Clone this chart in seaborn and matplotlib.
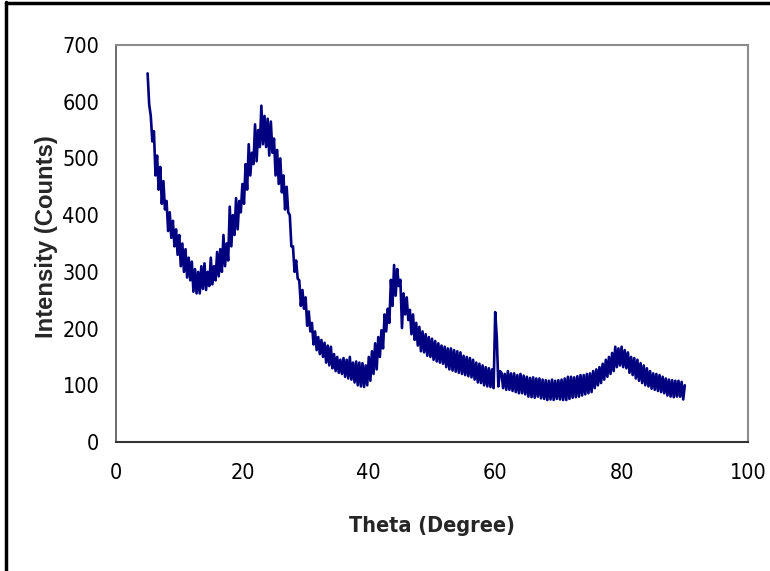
import numpy as np
import pandas as pd
import matplotlib
matplotlib.use("Agg")
import matplotlib.pyplot as plt
from matplotlib import font_manager as fm
import seaborn as sns

# Intensity readings, 4 samples per degree (0.25 deg step) starting at 5 deg
intensity_by_degree = [
    [650, 595, 575, 530],   # 5
    [548, 470, 505, 445],   # 6
    [485, 420, 460, 410],   # 7
    [425, 372, 405, 360],   # 8
    [390, 345, 375, 330],   # 9
    [365, 310, 350, 300],   # 10
    [340, 290, 325, 285],   # 11
    [318, 265, 305, 262],   # 12
    [300, 262, 310, 270],   # 13
    [315, 268, 300, 275],   # 14
    [325, 278, 310, 285],   # 15
    [335, 292, 340, 300],   # 16
    [365, 310, 350, 320],   # 17
    [415, 345, 400, 365],   # 18
    [430, 375, 425, 405],   # 19
    [455, 420, 490, 445],   # 20
    [525, 470, 510, 490],   # 21
    [560, 495, 550, 520],   # 22
    [593, 525, 575, 520],   # 23
    [570, 505, 565, 510],   # 24
    [535, 470, 515, 455],   # 25
    [500, 440, 470, 410],   # 26
    [450, 405, 400, 345],   # 27
    [345, 300, 320, 288],   # 28
    [285, 240, 268, 235],   # 29
    [255, 205, 230, 195],   # 30
    [210, 172, 195, 162],   # 31
    [185, 155, 180, 150],   # 32
    [175, 140, 170, 135],   # 33
    [168, 130, 155, 125],   # 34
    [150, 122, 145, 120],   # 35
    [148, 115, 145, 112],   # 36
    [150, 110, 140, 105],   # 37
    [142, 100, 140, 98],    # 38
    [139, 97, 135, 100],    # 39
    [150, 108, 160, 120],   # 40
    [174, 128, 185, 150],   # 41
    [197, 165, 225, 195],   # 42
    [235, 210, 286, 240],   # 43
    [312, 258, 305, 275],   # 44
    [286, 201, 262, 225],   # 45
    [255, 215, 233, 190],   # 46
    [225, 180, 210, 170],   # 47
    [203, 160, 195, 158],   # 48
    [190, 152, 185, 150],   # 49
    [182, 145, 178, 142],   # 50
    [174, 140, 170, 138],   # 51
    [168, 132, 165, 128],   # 52
    [165, 126, 162, 124],   # 53
    [160, 122, 158, 120],   # 54
    [152, 118, 150, 116],   # 55
    [148, 114, 145, 110],   # 56
    [140, 105, 138, 104],   # 57
    [135, 100, 132, 98],    # 58
    [130, 97, 128, 95],     # 59
    [229, 185, 98, 125],    # 60
    [122, 95, 120, 92],     # 61
    [125, 92, 121, 90],     # 62
    [121, 88, 118, 86],     # 63
    [120, 86, 117, 84],     # 64
    [115, 80, 113, 79],     # 65
    [114, 78, 112, 80],     # 66
    [112, 77, 110, 76],     # 67
    [109, 74, 108, 75],     # 68
    [110, 74, 108, 76],     # 69
    [109, 75, 110, 74],     # 70
    [112, 74, 115, 76],     # 71
    [115, 78, 114, 79],     # 72
    [116, 80, 118, 82],     # 73
    [118, 84, 120, 86],     # 74
    [121, 88, 125, 95],     # 75
    [128, 100, 132, 104],   # 76
    [138, 110, 145, 115],   # 77
    [150, 120, 157, 125],   # 78
    [168, 132, 165, 135],   # 79
    [168, 132, 162, 130],   # 80
    [158, 122, 150, 118],   # 81
    [148, 112, 145, 108],   # 82
    [139, 104, 135, 100],   # 83
    [130, 98, 125, 94],     # 84
    [121, 92, 120, 90],     # 85
    [118, 88, 115, 86],     # 86
    [112, 82, 110, 80],     # 87
    [109, 79, 108, 80],     # 88
    [108, 80, 106, 75],     # 89
    [100],                  # 90
]
start_theta = 5.0
step_theta = 0.25
x_ticks = [0, 20, 40, 60, 80, 100]
y_ticks = [0, 100, 200, 300, 400, 500, 600, 700]
x_label = "Theta (Degree)"
y_label = "Intensity (Counts)"

intensity = [v for chunk in intensity_by_degree for v in chunk]
theta = start_theta + step_theta * np.arange(len(intensity))
df = pd.DataFrame({"theta": theta, "intensity": intensity})

sns.set_style("white")
plt.rcParams['font.family'] = ['Liberation Sans', 'DejaVu Sans']

# choose a narrow face for tick labels / x label if one is installed
names = {f.name for f in fm.fontManager.ttflist}
stretch_pairs = {(f.name, f.stretch) for f in fm.fontManager.ttflist}
if 'Liberation Sans Narrow' in names:
    narrow = dict(family=['Liberation Sans Narrow', 'Liberation Sans'])
    tick_size, xlab_size = 17, 17
elif any(n == 'DejaVu Sans' and s in ('condensed', 'semi-condensed') for n, s in stretch_pairs):
    narrow = dict(family=['DejaVu Sans'], fontstretch='condensed')
    tick_size, xlab_size = 15.5, 15.5
else:
    narrow = dict(family=['Liberation Sans', 'DejaVu Sans'])
    tick_size, xlab_size = 15.5, 15.4

fig = plt.figure(figsize=(7.70, 5.71), dpi=100)
ax = fig.add_axes([116 / 770, 1 - 442 / 571, (748 - 116) / 770, (442 - 45) / 571])

sns.lineplot(data=df, x="theta", y="intensity", ax=ax, color="#000080",
             linewidth=1.9, estimator=None, sort=False)

ax.set_xlim(0, 100)
ax.set_ylim(0, 700)
ax.set_xticks(x_ticks)
ax.set_yticks(y_ticks)
ax.set_xticklabels([str(t) for t in x_ticks], fontsize=tick_size, **narrow)
ax.set_yticklabels([str(t) for t in y_ticks], fontsize=tick_size, **narrow)
ax.tick_params(axis='both', direction='out', length=5, width=1, color='#808080',
               colors='black')
ax.tick_params(axis='y', pad=7)
ax.tick_params(axis='x', pad=10)
ax.set_xlabel(x_label, fontsize=xlab_size, fontweight='bold', va='top', **narrow)
ax.set_ylabel(y_label, fontsize=17.2, fontweight='bold', va='top',
              family=['Liberation Sans', 'DejaVu Sans'])
ax.xaxis.set_label_coords(0.5, -0.186)
ax.yaxis.set_label_coords(-0.128, 0.518)

for side in ['top', 'right']:
    ax.spines[side].set_color('#8c8c8c')
    ax.spines[side].set_linewidth(1.5)
ax.spines['left'].set_color('#555555')
ax.spines['left'].set_linewidth(1.2)
ax.spines['bottom'].set_color('#333333')
ax.spines['bottom'].set_linewidth(1.5)

# outer frame (left and top edges visible in reference)
fig.add_artist(plt.Line2D([6.5 / 770, 6.5 / 770], [0, 1 - 2 / 571], color='black', linewidth=2.5))
fig.add_artist(plt.Line2D([6.5 / 770, 1], [1 - 2.5 / 571, 1 - 2.5 / 571], color='black', linewidth=2.5))

fig.savefig("out.png", dpi=100)
